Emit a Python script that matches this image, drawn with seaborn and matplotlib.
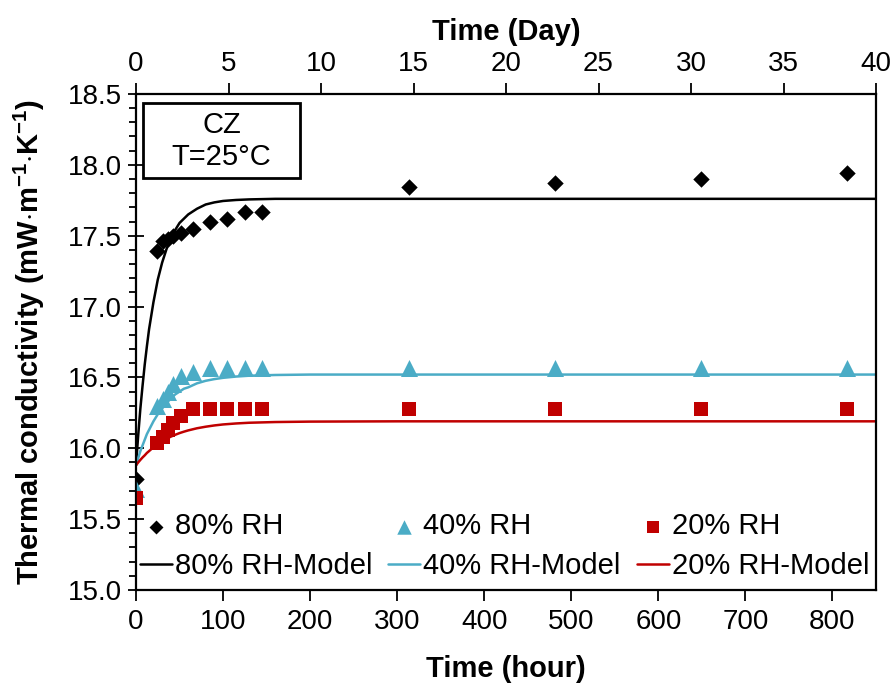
import matplotlib
matplotlib.use("Agg")
import matplotlib.pyplot as plt
import seaborn as sns
import pandas as pd
from matplotlib.patches import Rectangle
from matplotlib.ticker import MultipleLocator

# measured points (hours, mW/m/K)
hours = [0, 24, 31, 37, 43, 52, 65, 85, 105, 125, 145, 313, 481, 649, 817]
rh80 = [15.78, 17.39, 17.46, 17.48, 17.50, 17.52, 17.55, 17.60, 17.62, 17.67, 17.67,
        17.84, 17.875, 17.90, 17.94]
rh40 = [15.71, 16.30, 16.35, 16.40, 16.45, 16.51, 16.54, 16.565, 16.565, 16.565, 16.565,
        16.565, 16.565, 16.565, 16.565]
rh20 = [15.65, 16.035, 16.08, 16.13, 16.18, 16.23, 16.275, 16.275, 16.275, 16.275, 16.275,
        16.275, 16.275, 16.275, 16.275]

# model curves
model_hours = [0, 2.5, 5, 7.5, 10, 12.5, 15, 20, 25, 30, 35, 40, 45, 50, 55, 60, 70, 80,
               90, 100, 115, 130, 160, 200, 300, 850]
model80 = [15.88, 16.09, 16.28, 16.44, 16.59, 16.72, 16.84, 17.03, 17.19, 17.31, 17.405,
           17.48, 17.54, 17.59, 17.62, 17.65, 17.69, 17.72, 17.735, 17.745, 17.752, 17.756,
           17.76, 17.76, 17.76, 17.76]
model40 = [15.88, 15.93, 15.98, 16.02, 16.06, 16.10, 16.13, 16.19, 16.24, 16.28, 16.32,
           16.35, 16.38, 16.40, 16.42, 16.43, 16.458, 16.476, 16.488, 16.497, 16.506, 16.512,
           16.517, 16.52, 16.52, 16.52]
model20 = [15.88, 15.90, 15.918, 15.935, 15.95, 15.967, 15.98, 16.007, 16.03, 16.049, 16.067,
           16.082, 16.095, 16.107, 16.117, 16.126, 16.141, 16.152, 16.161, 16.168, 16.175,
           16.18, 16.185, 16.188, 16.19, 16.19]

labels = ["80% RH", "40% RH", "20% RH"]
colors = ["black", "#4BACC6", "#C00000"]
markers = ["D", "^", "s"]
sizes = [70, 150, 105]

sns.set_theme(style="ticks")
plt.rcParams["font.family"] = ["Liberation Sans", "DejaVu Sans"]
plt.rcParams["mathtext.fontset"] = "custom"
plt.rcParams["mathtext.rm"] = "Liberation Sans"
plt.rcParams["mathtext.bf"] = "Liberation Sans:bold"
for key in ["text.color", "axes.labelcolor", "xtick.color", "ytick.color", "axes.edgecolor"]:
    plt.rcParams[key] = "black"

fig = plt.figure(figsize=(8.96, 6.94), dpi=100)
ax = fig.add_axes([0.1518, 0.1499, 0.8259, 0.7147])

measured = [rh80, rh40, rh20]
models = [model80, model40, model20]
for lab, col, mk, sz, ys, ms in zip(labels, colors, markers, sizes, measured, models):
    df = pd.DataFrame({"h": hours, "k": ys})
    sns.scatterplot(data=df, x="h", y="k", ax=ax, color=col, marker=mk, s=sz,
                    linewidth=0, label=lab, zorder=3)
    dm = pd.DataFrame({"h": model_hours, "k": ms})
    sns.lineplot(data=dm, x="h", y="k", ax=ax, color=col, linewidth=1.8,
                 label=lab + "-Model", zorder=2, estimator=None)

ax.set_xlim(0, 850)
ax.set_ylim(15.0, 18.5)
ax.xaxis.set_major_locator(MultipleLocator(100))
ax.yaxis.set_major_locator(MultipleLocator(0.5))
ax.yaxis.set_minor_locator(MultipleLocator(0.1))
ax.set_yticklabels([f"{v:.1f}" for v in ax.get_yticks()])
ax.set_xlabel("Time (hour)", fontsize=21, fontweight="bold", labelpad=14)
ax.set_ylabel(r"Thermal conductivity (mW$\cdot$m$^{\mathbf{-1}}$$\cdot$K$^{\mathbf{-1}}$)",
              fontsize=21, fontweight="bold", labelpad=15)
ax.tick_params(axis="y", which="major", direction="inout", length=12, width=1.3,
               labelsize=20, pad=4)
ax.tick_params(axis="y", which="minor", direction="out", length=5, width=1.3)
ax.tick_params(axis="x", which="major", direction="out", length=8, width=1.3,
               labelsize=20, pad=6)
for sp in ax.spines.values():
    sp.set_linewidth(1.6)

ax2 = ax.twiny()
ax2.set_xlim(0, 40)
ax2.xaxis.set_major_locator(MultipleLocator(5))
ax2.tick_params(axis="x", which="major", direction="out", length=8, width=1.3,
                labelsize=20, pad=4)
ax2.set_xlabel("Time (Day)", fontsize=21, fontweight="bold", labelpad=8)

# legend: column-major order -> rows of markers then models
h, l = ax.get_legend_handles_labels()
leg = ax.legend(h, l, ncol=3, loc="lower left", bbox_to_anchor=(0.005, 0.02),
                frameon=False, fontsize=21, handlelength=1.1, handletextpad=0.1,
                columnspacing=0.55, labelspacing=0.4, borderpad=0, borderaxespad=0,
                markerscale=0.85)

# annotation box
ax.add_patch(Rectangle((0.0095, 0.831), 0.212, 0.151, transform=ax.transAxes,
                       fill=False, edgecolor="black", linewidth=2, zorder=4))
ax.text(0.1155, 0.9375, "CZ", transform=ax.transAxes, ha="center", va="center", fontsize=21)
ax.text(0.1155, 0.873, "T=25°C", transform=ax.transAxes, ha="center", va="center", fontsize=21)

fig.savefig("out.png", dpi=100)
